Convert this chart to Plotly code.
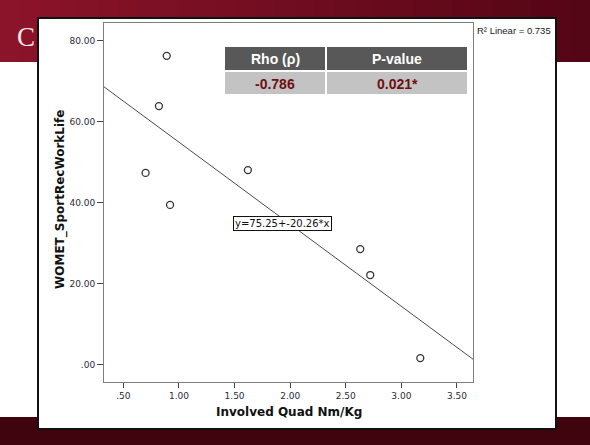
import plotly.graph_objects as go

# Quadriceps strength vs. WOMET sport/recreation/work/life score
quad_nm_kg = [0.89, 0.82, 0.70, 0.92, 1.62, 2.63, 2.72, 3.17]
womet_score = [76.3, 63.9, 47.4, 39.5, 48.1, 28.6, 22.2, 1.7]

# Linear fit reported on the chart
fit_intercept = 75.25
fit_slope = -20.26
r2_linear = 0.735

# Spearman correlation table
table_headers = ["Rho (ρ)", "P-value"]
table_values = ["-0.786", "0.021*"]

x_ticks = [0.5, 1.0, 1.5, 2.0, 2.5, 3.0, 3.5]
x_ticktext = [".50", "1.00", "1.50", "2.00", "2.50", "3.00", "3.50"]
y_ticks = [0, 20, 40, 60, 80]
y_ticktext = [".00", "20.00", "40.00", "60.00", "80.00"]

X_RANGE = [0.326, 3.644]
Y_RANGE = [-4.2, 84.4]

W, H = 590, 445
L, R, T, B = 104, 473, 23, 382  # plot-area pixel box


def px(x):
    return (x - L) / (R - L)


def py(y):
    return (B - y) / (B - T)


fig = go.Figure()

fig.add_trace(go.Scatter(
    x=quad_nm_kg, y=womet_score, mode="markers",
    marker=dict(symbol="circle-open", size=7, color="#333333", line=dict(width=1.3)),
    showlegend=False, hoverinfo="x+y",
))

line_x = X_RANGE
line_y = [fit_intercept + fit_slope * v for v in line_x]
fig.add_trace(go.Scatter(
    x=line_x, y=line_y, mode="lines",
    line=dict(color="#4a4a4a", width=1),
    showlegend=False, hoverinfo="skip",
))

shapes = []

# slide header band: horizontal red gradient built from strips
n_strips = 30
c0 = (0x8c, 0x14, 0x2a)
c1 = (0x55, 0x06, 0x16)
for i in range(n_strips):
    t = i / (n_strips - 1)
    col = tuple(int(c0[k] + (c1[k] - c0[k]) * t) for k in range(3))
    shapes.append(dict(
        type="rect", xref="paper", yref="paper", layer="below",
        x0=px(i * W / n_strips), x1=px((i + 1) * W / n_strips + 1),
        y0=py(62), y1=py(0),
        fillcolor="rgb(%d,%d,%d)" % col, line=dict(width=0),
    ))
# slide footer band
shapes.append(dict(
    type="rect", xref="paper", yref="paper", layer="below",
    x0=px(0), x1=px(W), y0=py(H), y1=py(417),
    fillcolor="#40040f", line=dict(width=0),
))
# white chart panel with dark frame
shapes.append(dict(
    type="rect", xref="paper", yref="paper", layer="below",
    x0=px(38), x1=px(556), y0=py(429), y1=py(18),
    fillcolor="white", line=dict(color="#111111", width=2),
))

# correlation table
shapes.append(dict(
    type="rect", xref="paper", yref="paper", layer="above",
    x0=px(223), x1=px(469), y0=py(96), y1=py(45),
    fillcolor="white", line=dict(width=0),
))
col_edges = [(225, 325), (327, 467)]
for (a, b) in col_edges:
    shapes.append(dict(
        type="rect", xref="paper", yref="paper", layer="above",
        x0=px(a), x1=px(b), y0=py(70), y1=py(47),
        fillcolor="#585858", line=dict(width=0),
    ))
    shapes.append(dict(
        type="rect", xref="paper", yref="paper", layer="above",
        x0=px(a), x1=px(b), y0=py(94), y1=py(72),
        fillcolor="#c3c3c3", line=dict(width=0),
    ))

annotations = []
for (a, b), head, val in zip(col_edges, table_headers, table_values):
    cx = px((a + b) / 2)
    annotations.append(dict(
        xref="paper", yref="paper", x=cx, y=py(59), text="<b>%s</b>" % head,
        showarrow=False, xanchor="center", yanchor="middle",
        font=dict(family="Liberation Sans, Arial", size=14, color="white"),
    ))
    annotations.append(dict(
        xref="paper", yref="paper", x=cx, y=py(83.5), text="<b>%s</b>" % val,
        showarrow=False, xanchor="center", yanchor="middle",
        font=dict(family="Liberation Sans, Arial", size=14, color="#6e0f12"),
    ))

# fit equation label on the line
eq_x = 1.927
annotations.append(dict(
    x=eq_x, y=34.8, xref="x", yref="y",
    text="y=%.2f+%.2f*x" % (fit_intercept, fit_slope),
    showarrow=False, bgcolor="white", bordercolor="#111111", borderwidth=1,
    borderpad=1, font=dict(family="DejaVu Sans", size=10, color="#111111"),
))

# R² legend text
annotations.append(dict(
    xref="paper", yref="paper", x=px(475), y=py(30), xanchor="left", yanchor="middle",
    text="R² Linear = %.3f" % r2_linear, showarrow=False,
    font=dict(family="Liberation Sans, Arial", size=9.5, color="#222222"),
))

# slide title initial peeking out from behind the panel
annotations.append(dict(
    xref="paper", yref="paper", x=px(37), y=py(37), xanchor="right", yanchor="middle",
    text="C", showarrow=False,
    font=dict(family="Liberation Serif, DejaVu Serif", size=27, color="#f2e6e8"),
))

# axis titles
annotations.append(dict(
    xref="paper", yref="paper", x=px(289), y=py(412), xanchor="center", yanchor="middle",
    text="<b>Involved Quad Nm/Kg</b>", showarrow=False,
    font=dict(family="DejaVu Sans", size=12, color="#111111"),
))
annotations.append(dict(
    xref="paper", yref="paper", x=px(60), y=py(200), xanchor="center", yanchor="middle",
    text="<b>WOMET_SportRecWorkLife</b>", showarrow=False, textangle=-90,
    font=dict(family="DejaVu Sans", size=12, color="#111111"),
))

axis_common = dict(
    showgrid=False, zeroline=False, showline=True, mirror=True,
    linecolor="#7d7d7d", linewidth=1, ticks="outside", tickcolor="#444444",
    tickfont=dict(family="DejaVu Sans", size=9, color="#2b2b3a"),
)

fig.update_layout(
    width=W, height=H,
    margin=dict(l=L, r=W - R, t=T, b=H - B),
    paper_bgcolor="white", plot_bgcolor="#f1f1f1",
    xaxis=dict(range=X_RANGE, tickvals=x_ticks, ticktext=x_ticktext,
               ticklen=5, **axis_common),
    yaxis=dict(range=Y_RANGE, tickvals=y_ticks, ticktext=y_ticktext,
               ticklen=6, **axis_common),
    shapes=shapes, annotations=annotations,
)

fig.write_html("out.html")
